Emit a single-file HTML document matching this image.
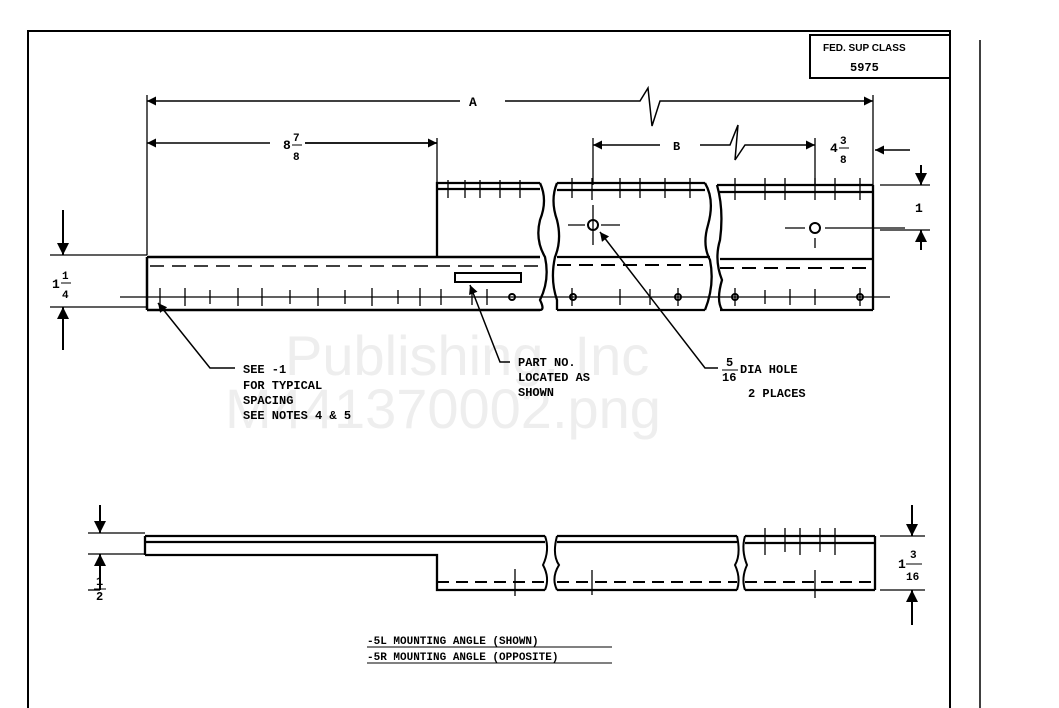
<!DOCTYPE html>
<html><head><meta charset="utf-8"><style>
html,body{margin:0;padding:0;background:#fff;}
svg{display:block}
text{font-family:"Liberation Mono",monospace;fill:#000;font-weight:bold}
</style></head><body>
<svg width="1059" height="708" viewBox="0 0 1059 708" xmlns="http://www.w3.org/2000/svg">
<defs>
<marker id="a" viewBox="0 0 10 10" refX="10" refY="5" markerWidth="8" markerHeight="6" orient="auto-start-reverse"><path d="M0,0L10,5L0,10z" fill="#000"/></marker>
</defs>
<rect width="1059" height="708" fill="#fff"/>
<text x="285" y="375" font-size="56" style="fill:#eeeeee;font-family:'Liberation Sans';font-weight:normal">Publishing, Inc</text>
<text x="225" y="428" font-size="56" style="fill:#eeeeee;font-family:'Liberation Sans';font-weight:normal">M441370002.png</text>
<g stroke="#000" fill="none" stroke-width="2">
<path d="M28,708V31H950V708"/>
<path d="M980,40V708" stroke-width="1.5"/>
<rect x="810" y="35" width="140" height="43"/>
<path d="M147,95V255M873,95V185" stroke-width="1.3"/>
<path d="M147,101H460M505,101H640L648,88L652,126L660,101H873" marker-start="url(#a)" marker-end="url(#a)" stroke-width="1.5"/>
<path d="M147,143H270M305,143H437" marker-start="url(#a)" stroke-width="1.5"/>
<path d="M305,143H437" marker-end="url(#a)" stroke-width="1.5"/>
<path d="M437,138V185M593,138V185M815,138V185" stroke-width="1.3"/>
<path d="M593,145H660M700,145H730L738,125L735,160L745,145H815" marker-start="url(#a)" marker-end="url(#a)" stroke-width="1.5"/>
<path d="M910,150H875" marker-end="url(#a)" stroke-width="1.5"/>
<path d="M880,185H930M880,230H930" stroke-width="1.3"/>
<path d="M921,165V185" marker-end="url(#a)"/><path d="M921,250V230" marker-end="url(#a)"/>
<path d="M50,255H147M50,307H147" stroke-width="1.3"/>
<path d="M63,210V255" marker-end="url(#a)"/><path d="M63,350V307" marker-end="url(#a)"/>
<path d="M147,257H540M147,310H540M147,257V310" stroke-width="2.5"/>
<path d="M437,257V183H540M437,189H540" stroke-width="2.3"/>
<path d="M540,183Q548,200 540,220Q535,240 545,257Q550,280 540,300Q545,310 540,310" stroke-width="2.3"/>
<path d="M150,266H540" stroke-dasharray="14,8" stroke-width="1.5"/>
<rect x="455" y="273" width="66" height="9"/>
<path d="M557,183H705M557,190H705M557,257H710M557,310H705" stroke-width="2.3"/>
<path d="M557,265H710" stroke-dasharray="14,8"/>
<path d="M557,183Q550,200 557,220Q562,240 555,257Q550,280 557,300L557,310" stroke-width="2.3"/>
<path d="M705,183Q715,200 708,225Q702,245 710,260Q715,285 705,310" stroke-width="2.3"/>
<circle cx="593" cy="225" r="5"/>
<path d="M568,225H585M601,225H620M593,205V245" stroke-width="1.3"/>
<path d="M717,185H873M718,192H873M720,259H873M720,310H873M873,185V310" stroke-width="2.3"/>
<path d="M720,268H873" stroke-dasharray="14,8"/>
<path d="M717,185Q724,210 720,240Q714,260 722,280Q716,300 722,310" stroke-width="2.3"/>
<circle cx="815" cy="228" r="5"/>
<path d="M785,228H805M825,228H905M815,238V248" stroke-width="1.3"/>
<path d="M120,297H890" stroke-width="1.3"/>
<g stroke-width="1.3">
<path d="M160,288V306M185,288V306M210,290V304M238,288V306M262,288V306M290,290V304M318,288V306M345,290V304M372,288V306M398,290V304M420,288V306M441,289V305M472,289V305M487,289V305M572,288V306M620,289V305M650,289V305M678,288V306M735,288V306M765,290V304M790,289V305M815,289V305M860,288V306"/>
<path d="M448,180V198M465,180V198M480,180V198M500,180V198M520,180V198M572,178V198M592,178V200M620,178V198M640,178V198M665,178V198M690,178V198M735,178V200M765,178V200M785,178V200M815,178V200M835,178V200M860,178V200"/>
</g>
<circle cx="512" cy="297" r="3"/><circle cx="573" cy="297" r="3"/><circle cx="678" cy="297" r="3"/><circle cx="735" cy="297" r="3"/><circle cx="860" cy="297" r="3"/>
<path d="M235,368H210L158,303" marker-end="url(#a)" stroke-width="1.5"/>
<path d="M510,362H500L470,285" marker-end="url(#a)" stroke-width="1.5"/>
<path d="M718,368H705L600,232" marker-end="url(#a)" stroke-width="1.5"/>
<path d="M145,536H545M145,542H545M145,555H437V590H545M145,536V555M437,555V590" stroke-width="2.3"/>
<path d="M437,582H545" stroke-dasharray="12,7"/>
<path d="M545,536Q550,550 543,565Q550,578 545,590" />
<path d="M557,536H737M557,542H737M557,590H737" stroke-width="2.3"/>
<path d="M557,582H737" stroke-dasharray="12,7"/>
<path d="M557,536Q552,555 559,565Q551,578 557,590M737,536Q741,555 735,565Q741,578 737,590"/>
<path d="M745,536H875M745,543H875M745,590H875M875,536V590" stroke-width="2.3"/>
<path d="M745,582H875" stroke-dasharray="12,7"/>
<path d="M745,536Q741,550 747,565Q741,578 745,590"/>
<path d="M765,528V555M785,528V552M800,528V555M820,528V552M835,528V555M592,570V595M515,569V596M815,570V598" stroke-width="1.3"/>
<path d="M88,533H145M88,554H145" stroke-width="1.3"/>
<path d="M100,505V533" marker-end="url(#a)"/><path d="M100,590V554" marker-end="url(#a)"/>
<path d="M88,590H100" stroke-width="1.3"/>
<path d="M880,536H925M880,590H925" stroke-width="1.3"/>
<path d="M912,505V536" marker-end="url(#a)"/><path d="M912,625V590" marker-end="url(#a)"/>
<path d="M367,647H612M367,663H612" stroke-width="1"/>
</g>
<text x="823" y="51" font-size="10" style="font-family:'Liberation Sans'">FED. SUP CLASS</text>
<text x="850" y="71" font-size="12">5975</text>
<text x="469" y="106" font-size="13">A</text>
<text x="673" y="150" font-size="12">B</text>
<text x="283" y="149" font-size="13">8</text><text x="293" y="141" font-size="11">7</text><text x="293" y="160" font-size="11">8</text>
<path d="M292,145H302" stroke="#000"/>
<text x="830" y="152" font-size="13">4</text><text x="840" y="144" font-size="11">3</text><text x="840" y="163" font-size="11">8</text>
<path d="M839,148H849" stroke="#000"/>
<text x="915" y="212" font-size="13">1</text>
<text x="52" y="288" font-size="13">1</text><text x="62" y="279" font-size="11">1</text><text x="62" y="298" font-size="11">4</text>
<path d="M61,283H71" stroke="#000"/>
<text x="243" y="373" font-size="12">SEE -1</text>
<text x="243" y="389" font-size="12">FOR TYPICAL</text>
<text x="243" y="404" font-size="12">SPACING</text>
<text x="243" y="419" font-size="12">SEE NOTES 4 &amp; 5</text>
<text x="518" y="366" font-size="12">PART NO.</text>
<text x="518" y="381" font-size="12">LOCATED AS</text>
<text x="518" y="396" font-size="12">SHOWN</text>
<text x="726" y="366" font-size="12">5</text><text x="722" y="381" font-size="12">16</text>
<path d="M722,370H738" stroke="#000"/>
<text x="740" y="373" font-size="12">DIA HOLE</text>
<text x="748" y="397" font-size="12">2 PLACES</text>
<text x="96" y="585" font-size="12">1</text><text x="96" y="600" font-size="12">2</text>
<path d="M94,589H106" stroke="#000"/>
<text x="898" y="568" font-size="13">1</text><text x="910" y="558" font-size="11">3</text><text x="906" y="580" font-size="11">16</text>
<path d="M906,564H922" stroke="#000"/>
<text x="367" y="644" font-size="11">-5L MOUNTING ANGLE (SHOWN)</text>
<text x="367" y="660" font-size="11">-5R MOUNTING ANGLE (OPPOSITE)</text>
</svg>
</body></html>
